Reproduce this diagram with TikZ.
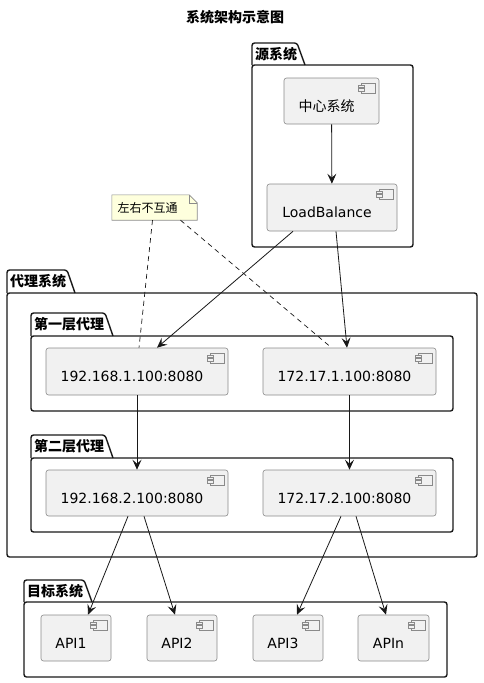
\documentclass[tikz,border=0pt]{standalone}
\usepackage{fontspec}
\setmainfont{DejaVu Sans}
\newfontfamily\cjk{Noto Sans CJK SC}
\usetikzlibrary{arrows.meta,backgrounds}
\definecolor{compfill}{HTML}{F1F1F1}
\definecolor{compline}{HTML}{8A8A8A}
\definecolor{lineblack}{HTML}{181818}
\definecolor{notefill}{HTML}{FEFFDD}
\begin{document}
\begin{tikzpicture}[x=1pt,y=-1pt,
    comp/.style={draw=compline,fill=compfill,line width=0.6pt,rounded corners=2.5pt,
        minimum height=46pt,inner sep=0pt,font=\fontsize{14}{16}\selectfont,
        text height=20pt,text depth=0pt,execute at begin node=\hspace*{-10pt},
        path picture={
            \coordinate (ne) at (path picture bounding box.north east);
            \draw[sharp corners,draw=compline,line width=0.6pt,fill=compfill] ([shift={(-18pt,-5pt)}]ne) rectangle ([shift={(-4pt,-15pt)}]ne);
            \draw[sharp corners,draw=compline,line width=0.6pt,fill=compfill] ([shift={(-21pt,-7pt)}]ne) rectangle ([shift={(-15pt,-9.5pt)}]ne);
            \draw[sharp corners,draw=compline,line width=0.6pt,fill=compfill] ([shift={(-21pt,-10.5pt)}]ne) rectangle ([shift={(-15pt,-13pt)}]ne);
        }},
    pkg/.style={draw=lineblack,line width=1.4pt,rounded corners=2.5pt},
    pkgtitle/.style={anchor=west,inner sep=0pt,font=\cjk\bfseries\fontsize{14}{16}\selectfont},
    notebox/.style={minimum width=85pt,minimum height=25pt,inner sep=0pt,
        font=\cjk\fontsize{12}{14}\selectfont,execute at begin node=\hspace*{-14pt}},
    link/.style={-{Stealth[length=10pt,width=9pt,inset=4pt]},line width=0.8pt,draw=lineblack},
    notelink/.style={dashed,dash pattern=on 5pt off 4pt,line width=0.7pt,draw=lineblack}]

    \useasboundingbox (0,0) rectangle (483,683);

    \node[font=\cjk\bfseries\fontsize{14}{16}\selectfont] (title) at (235,17) {系统架构示意图};

    % packages
    \draw[pkg] (252,65) -- (252,43) -- (297,43) -- (305,65);
    \draw[pkg] (252,65) rectangle (413,247);
    \node[pkgtitle] (srcpkg) at (255,54) {源系统};

    \draw[pkg] (7,293) -- (7,270) -- (67,270) -- (75,293);
    \draw[pkg] (7,293) rectangle (477,557);
    \node[pkgtitle] (proxypkg) at (10,281.5) {代理系统};

    \draw[pkg] (31,336) -- (31,313) -- (105,313) -- (113,336);
    \draw[pkg] (31,336) rectangle (453,411);
    \node[pkgtitle] (layer1pkg) at (34,324.5) {第一层代理};

    \draw[pkg] (31,458) -- (31,435) -- (105,435) -- (113,458);
    \draw[pkg] (31,458) rectangle (453,532);
    \node[pkgtitle] (layer2pkg) at (34,446.5) {第二层代理};

    \draw[pkg] (24,602) -- (24,580) -- (84,580) -- (92,602);
    \draw[pkg] (24,602) rectangle (447,677);
    \node[pkgtitle] (targetpkg) at (27,591) {目标系统};

    % components
    \node[comp,minimum width=95pt] (center) at (331.5,101) {\cjk 中心系统};
    \node[comp,minimum width=130pt,minimum height=47pt] (lb) at (332,207.5) {LoadBalance};

    \node[comp,minimum width=182pt,minimum height=47pt] (ipa1) at (137,371.5) {192.168.1.100:8080};
    \node[comp,minimum width=173pt,minimum height=47pt] (ipb1) at (349.5,371.5) {172.17.1.100:8080};
    \node[comp,minimum width=182pt] (ipa2) at (137,493) {192.168.2.100:8080};
    \node[comp,minimum width=173pt] (ipb2) at (349.5,493) {172.17.2.100:8080};

    \node[comp,minimum width=70pt] (api1) at (76,638) {API1};
    \node[comp,minimum width=70pt] (api2) at (182,638) {API2};
    \node[comp,minimum width=70pt] (api3) at (288,638) {API3};
    \node[comp,minimum width=71pt] (apin) at (393.5,638) {APIn};

    % note
    \node[notebox] (note) at (154.5,207.5) {左右不互通};
    \begin{scope}[on background layer]
        \draw[fill=notefill,draw=compline,line width=0.6pt] (note.north west) -- ([xshift=-8pt]note.north east)
            -- ([yshift=-8pt]note.north east) -- (note.south east) -- (note.south west) -- cycle;
        \draw[draw=compline,line width=0.6pt] ([xshift=-8pt]note.north east) |- ([yshift=-8pt]note.north east);
    \end{scope}

    % links
    \draw[link] (center) -- (lb);
    \draw[link] ([xshift=-39pt]lb.south) -- ([xshift=20pt]ipa1.north);
    \draw[link] ([xshift=4pt]lb.south) -- ([xshift=-2.5pt]ipb1.north);
    \draw[link] (ipa1) -- (ipa2);
    \draw[link] (ipb1) -- (ipb2);
    \draw[link] ([xshift=-9pt]ipa2.south) -- ([xshift=12pt]api1.north);
    \draw[link] ([xshift=7pt]ipa2.south) -- ([xshift=-7pt]api2.north);
    \draw[link] ([xshift=-8.5pt]ipb2.south) -- ([xshift=9pt]api3.north);
    \draw[link] ([xshift=6.5pt]ipb2.south) -- ([xshift=-7.5pt]apin.north);

    \draw[notelink] ([xshift=-2pt]note.south) -- ([xshift=2pt]ipa1.north);
    \draw[notelink] ([xshift=26pt]note.south) -- ([xshift=-18pt]ipb1.north);
\end{tikzpicture}
\end{document}
